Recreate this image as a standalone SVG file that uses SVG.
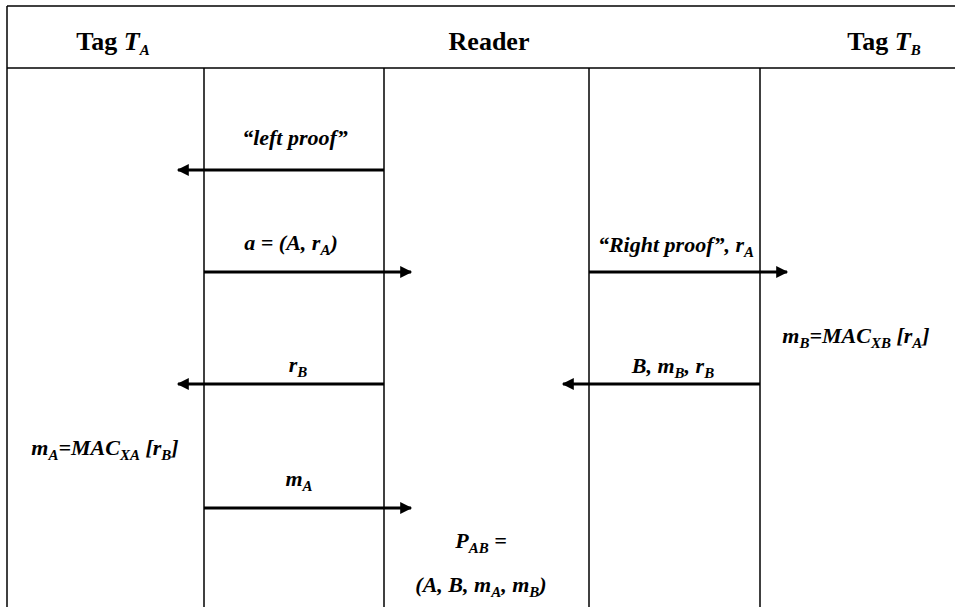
<svg xmlns="http://www.w3.org/2000/svg" width="955" height="607" viewBox="0 0 955 607">
<defs>
<style>
.ln{stroke:#000;stroke-width:1.5;fill:none}
.ar{stroke:#000;stroke-width:3;fill:none}
.hd{font-family:"Liberation Serif","Times New Roman",serif;font-weight:bold;font-size:26px;fill:#000}
.lb{font-family:"Liberation Serif","Times New Roman",serif;font-weight:bold;font-style:italic;font-size:22px;fill:#000}
.sb{font-size:15px}
</style>
<marker id="ah" viewBox="0 0 10 10" refX="9" refY="5" markerWidth="4.5" markerHeight="4" orient="auto" markerUnits="strokeWidth">
<path d="M0,0 L10,5 L0,10 z" fill="#000"/>
</marker>
</defs>
<rect width="955" height="607" fill="#fff"/>
<g id="frame">
<line class="ln" x1="7" y1="6" x2="955" y2="6" stroke-width="2"/>
<line class="ln" x1="7" y1="6" x2="7" y2="607" stroke-width="2"/>
<line class="ln" x1="7" y1="68" x2="955" y2="68" stroke-width="2"/>
<line class="ln" x1="204" y1="68" x2="204" y2="607"/>
<line class="ln" x1="384" y1="68" x2="384" y2="607"/>
<line class="ln" x1="589" y1="68" x2="589" y2="607"/>
<line class="ln" x1="760" y1="68" x2="760" y2="607"/>
</g>
<g id="tagA"><text class="hd" x="113" y="50" text-anchor="middle">Tag <tspan font-style="italic">T</tspan><tspan font-style="italic" class="sb" dy="5">A</tspan></text></g>
<g id="reader"><text class="hd" x="489" y="50" text-anchor="middle">Reader</text></g>
<g id="tagB"><text class="hd" x="884" y="50" text-anchor="middle">Tag <tspan font-style="italic">T</tspan><tspan font-style="italic" class="sb" dy="5">B</tspan></text></g>
<g id="connectors">
<line class="ar" x1="384" y1="170" x2="178" y2="170" marker-end="url(#ah)"/>
<line class="ar" x1="204" y1="272" x2="411" y2="272" marker-end="url(#ah)"/>
<line class="ar" x1="589" y1="272" x2="787" y2="272" marker-end="url(#ah)"/>
<line class="ar" x1="760" y1="384" x2="563" y2="384" marker-end="url(#ah)"/>
<line class="ar" x1="384" y1="384" x2="178" y2="384" marker-end="url(#ah)"/>
<line class="ar" x1="204" y1="508" x2="411" y2="508" marker-end="url(#ah)"/>
</g>
<g id="labels">
<text class="lb" x="295" y="145" text-anchor="middle">“left proof”</text>
<text class="lb" x="291" y="250" text-anchor="middle">a = (A, r<tspan class="sb" dy="5">A</tspan><tspan dy="-5">)</tspan></text>
<text class="lb" x="676" y="252" text-anchor="middle">“Right proof”, r<tspan class="sb" dy="5">A</tspan></text>
<text class="lb" x="856" y="343" text-anchor="middle">m<tspan class="sb" dy="5">B</tspan><tspan dy="-5">=MAC</tspan><tspan class="sb" dy="5">XB</tspan><tspan dy="-5"> [r</tspan><tspan class="sb" dy="5">A</tspan><tspan dy="-5">]</tspan></text>
<text class="lb" x="673" y="373" text-anchor="middle">B, m<tspan class="sb" dy="5">B</tspan><tspan dy="-5">, r</tspan><tspan class="sb" dy="5">B</tspan></text>
<text class="lb" x="298" y="372" text-anchor="middle">r<tspan class="sb" dy="5">B</tspan></text>
<text class="lb" x="105" y="455" text-anchor="middle">m<tspan class="sb" dy="5">A</tspan><tspan dy="-5">=MAC</tspan><tspan class="sb" dy="5">XA</tspan><tspan dy="-5"> [r</tspan><tspan class="sb" dy="5">B</tspan><tspan dy="-5">]</tspan></text>
<text class="lb" x="299" y="486" text-anchor="middle">m<tspan class="sb" dy="5">A</tspan></text>
<text class="lb" x="481" y="548" text-anchor="middle">P<tspan class="sb" dy="5">AB</tspan><tspan dy="-5"> =</tspan></text>
<text class="lb" x="481" y="592" text-anchor="middle">(A, B, m<tspan class="sb" dy="5">A</tspan><tspan dy="-5">, m</tspan><tspan class="sb" dy="5">B</tspan><tspan dy="-5">)</tspan></text>
</g>
</svg>
